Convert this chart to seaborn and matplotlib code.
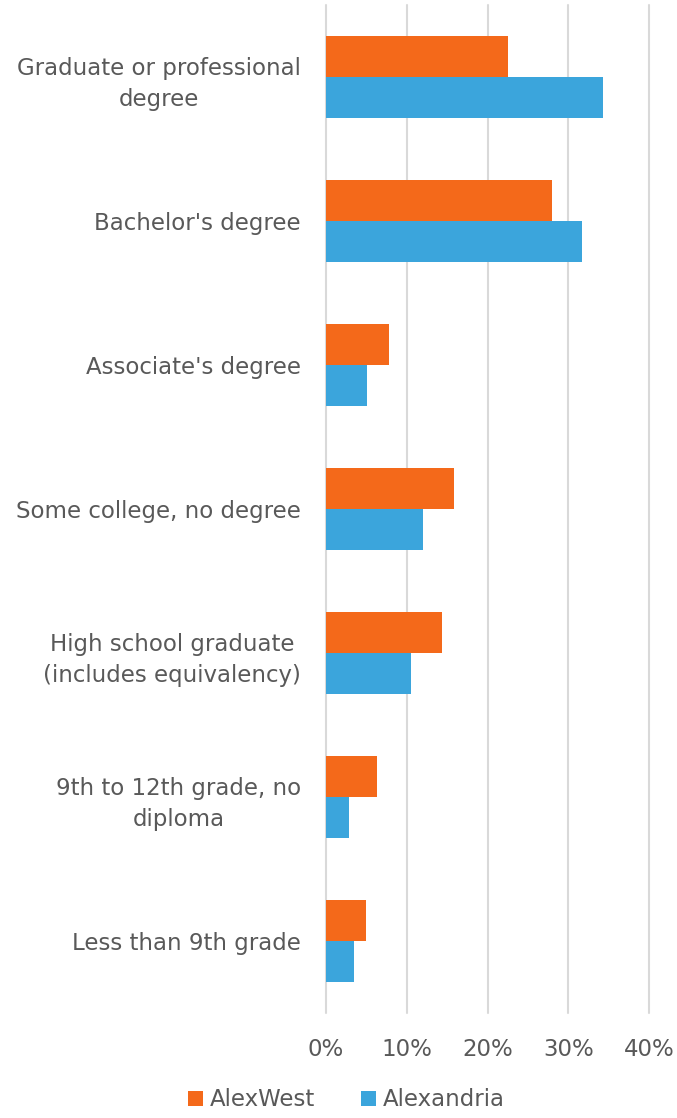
import matplotlib
matplotlib.use("Agg")
import matplotlib.pyplot as plt
import seaborn as sns
import pandas as pd
from matplotlib.ticker import FuncFormatter, MultipleLocator
from matplotlib.patches import Patch

categories = [
    "Graduate or professional\ndegree",
    "Bachelor's degree",
    "Associate's degree",
    "Some college, no degree",
    "High school graduate\n(includes equivalency)",
    "9th to 12th grade, no\ndiploma",
    "Less than 9th grade",
]
alexwest = [22.6, 28.0, 7.8, 15.8, 14.4, 6.3, 5.0]
alexandria = [34.3, 31.7, 5.1, 12.0, 10.5, 2.8, 3.5]
series = ["AlexWest", "Alexandria"]
colors = ["#F4691A", "#3BA5DC"]

rows = []
for c, a, b in zip(categories, alexwest, alexandria):
    rows.append({"cat": c, "series": series[0], "val": a})
    rows.append({"cat": c, "series": series[1], "val": b})
df = pd.DataFrame(rows)

sns.set_theme(style="white")
plt.rcParams["font.family"] = ["DejaVu Sans"]
text_color = "#595959"
fs = 16.5

fig = plt.figure(figsize=(6.77, 11.18), dpi=100)
ax = fig.add_axes([326 / 677, 1 - 1013 / 1118, (649 - 326) / 677, (1013 - 5) / 1118])

sns.barplot(data=df, y="cat", x="val", hue="series", hue_order=series,
            order=categories, palette=colors, orient="h", width=0.57,
            saturation=1, linewidth=0, ax=ax, legend=False)

ax.set_xlim(0, 40)
ax.set_ylim(6.5, -0.5)
ax.xaxis.set_major_locator(MultipleLocator(10))
ax.xaxis.set_major_formatter(FuncFormatter(lambda v, p: f"{v:.0f}%"))
ax.grid(axis="x", color="#D9D9D9", linewidth=1.5)
for gl in ax.get_xgridlines():
    gl.set_clip_on(False)
ax.set_axisbelow(True)
for s in ax.spines.values():
    s.set_visible(False)
ax.set_xlabel("")
ax.set_ylabel("")
ax.tick_params(axis="y", length=0, pad=18, labelsize=fs, labelcolor=text_color)
ax.tick_params(axis="x", length=0, pad=18, labelsize=fs, labelcolor=text_color)
for lbl in ax.get_yticklabels():
    lbl.set_horizontalalignment("right")
    lbl.set_multialignment("center")
    lbl.set_linespacing(1.45)

handles = [Patch(facecolor=c, edgecolor="none") for c in colors]
fig.legend(handles, series, loc="center", bbox_to_anchor=(346.5 / 677, 1 - 1100 / 1118),
           ncol=2, frameon=False, fontsize=fs, labelcolor=text_color,
           handlelength=0.65, handleheight=0.65, handletextpad=0.3, columnspacing=2.0)

fig.savefig("out.png", dpi=100, facecolor="white")
